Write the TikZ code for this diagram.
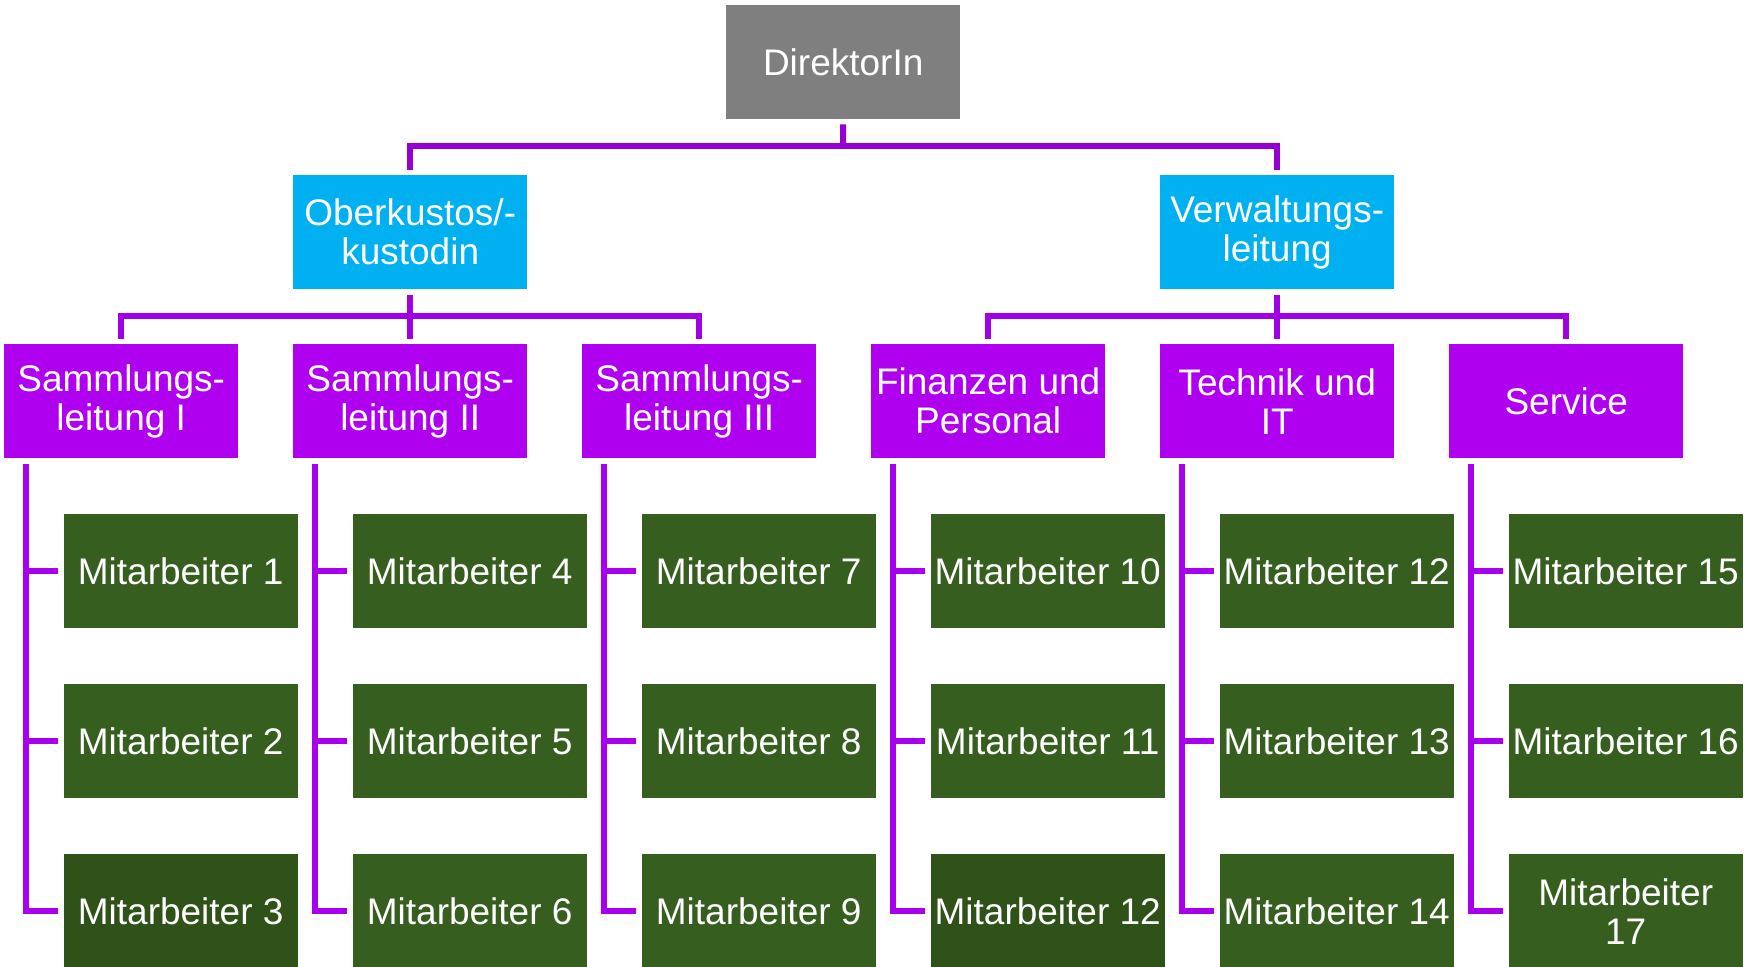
\documentclass[tikz,border=0pt]{standalone}
\usepackage{fontspec}
\setmainfont{Liberation Sans}
\definecolor{dirgrey}{HTML}{7F7F7F}
\definecolor{cyanbox}{HTML}{00B0F0}
\definecolor{purplebox}{HTML}{B000F0}
\definecolor{greenbox}{HTML}{365F1F}
\definecolor{darkgreenbox}{HTML}{2E5218}
\definecolor{lineA}{HTML}{9400D3}
\definecolor{lineB}{HTML}{A200E4}
\definecolor{lineC}{HTML}{A800EE}
\begin{document}
\begin{tikzpicture}[x=1pt,y=-1pt,
  box/.style={rectangle, anchor=north west, inner sep=0pt, minimum width=234pt, minimum height=114pt,
    text=white, align=center, font=\fontsize{37}{39}\selectfont},
  dirbox/.style={box, fill=dirgrey},
  cbox/.style={box, fill=cyanbox},
  pbox/.style={box, fill=purplebox},
  gbox/.style={box, fill=greenbox},
  dgbox/.style={box, fill=darkgreenbox},
  topline/.style={draw=lineA, line width=6pt},
  midline/.style={draw=lineB, line width=6pt},
  subline/.style={draw=lineC, line width=6pt}
]
\useasboundingbox (0,0) rectangle (1744,966);
\clip (0,0) rectangle (1744,966);

% top
\node[dirbox] (dir) at (726,5) {DirektorIn};
\node[cbox] (ober) at (293,175) {Oberkustos/-\\kustodin};
\node[cbox] (verw) at (1160,175) {Verwaltungs-\\leitung};

% level 3
\node[pbox] (s1) at (4,344) {Sammlungs-\\leitung I};
\node[pbox] (s2) at (293,344) {Sammlungs-\\leitung II};
\node[pbox] (s3) at (582,344) {Sammlungs-\\leitung III};
\node[pbox] (s4) at (871,344) {Finanzen und\\Personal};
\node[pbox] (s5) at (1160,344) {Technik und\\IT};
\node[pbox] (s6) at (1449,344) {Service};

% staff
\node[gbox]  (m1)  at (63.5,514) {Mitarbeiter 1};
\node[gbox]  (m2)  at (63.5,684) {Mitarbeiter 2};
\node[dgbox] (m3)  at (63.5,854) {Mitarbeiter 3};
\node[gbox]  (m4)  at (352.5,514) {Mitarbeiter 4};
\node[gbox]  (m5)  at (352.5,684) {Mitarbeiter 5};
\node[gbox]  (m6)  at (352.5,854) {Mitarbeiter 6};
\node[gbox]  (m7)  at (641.5,514) {Mitarbeiter 7};
\node[gbox]  (m8)  at (641.5,684) {Mitarbeiter 8};
\node[gbox]  (m9)  at (641.5,854) {Mitarbeiter 9};
\node[gbox]  (m10) at (930.5,514) {Mitarbeiter 10};
\node[gbox]  (m11) at (930.5,684) {Mitarbeiter 11};
\node[dgbox] (m12) at (930.5,854) {Mitarbeiter 12};
\node[gbox]  (m13) at (1219.5,514) {Mitarbeiter 12};
\node[gbox]  (m14) at (1219.5,684) {Mitarbeiter 13};
\node[gbox]  (m15) at (1219.5,854) {Mitarbeiter 14};
\node[gbox]  (m16) at (1508.5,514) {Mitarbeiter 15};
\node[gbox]  (m17) at (1508.5,684) {Mitarbeiter 16};
\node[gbox]  (m18) at (1508.5,854) {Mitarbeiter\\17};

% top connectors
\coordinate (j0) at (843,146);
\draw[topline] ([yshift=-5pt]dir.south) -- (j0);
\draw[topline] ([yshift=5pt]ober.north) |- (j0) -| ([yshift=5pt]verw.north);

% second level connectors
\coordinate (j1) at (410,316);
\coordinate (j2) at (1277,316);
\draw[midline] ([yshift=-6pt]ober.south) -- ([yshift=5pt]s2.north);
\draw[midline] ([yshift=5pt]s1.north) |- (j1) -| ([yshift=5pt]s3.north);
\draw[midline] ([yshift=-6pt]verw.south) -- ([yshift=5pt]s5.north);
\draw[midline] ([yshift=5pt]s4.north) |- (j2) -| ([yshift=5pt]s6.north);

% staff connectors
\foreach \s/\a/\b/\c in {s1/m1/m2/m3, s2/m4/m5/m6, s3/m7/m8/m9, s4/m10/m11/m12, s5/m13/m14/m15, s6/m16/m17/m18}{
  \coordinate (v) at ([xshift=22pt]\s.south west);
  \draw[subline] ([yshift=-6pt]v) |- ([xshift=-6pt]\c.west);
  \draw[subline] ([xshift=-6pt]\a.west) -- (v |- \a.west);
  \draw[subline] ([xshift=-6pt]\b.west) -- (v |- \b.west);
}
\end{tikzpicture}
\end{document}
